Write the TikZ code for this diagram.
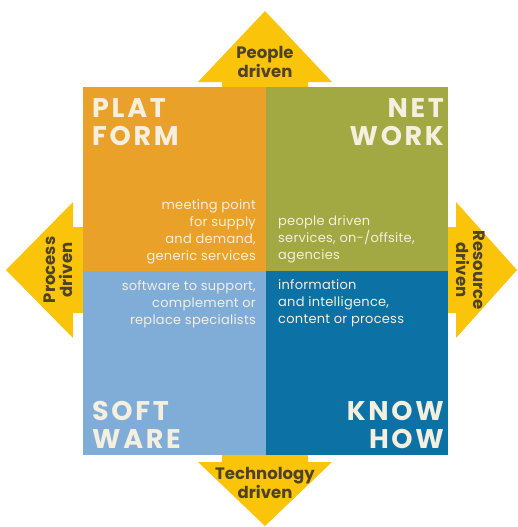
\documentclass[tikz,border=0pt]{standalone}
\usepackage{fontspec}
\setmainfont{Poppins}
\definecolor{orng}{RGB}{234,161,42}
\definecolor{olive}{RGB}{162,168,66}
\definecolor{lblue}{RGB}{128,173,216}
\definecolor{dblue}{RGB}{12,113,164}
\definecolor{ylw}{RGB}{250,196,10}
\definecolor{cream}{RGB}{244,239,222}
\definecolor{darktxt}{RGB}{78,66,40}
\tikzset{
  quad/.style={minimum width=182.5pt, minimum height=184pt, inner sep=0pt, outer sep=0pt, draw=none},
  title/.style={text=cream, font=\fontsize{27}{28}\selectfont\bfseries\addfontfeatures{LetterSpace=10}, inner sep=0pt},
  desc/.style={text=cream, font=\fontsize{13}{17}\selectfont\addfontfeatures{LetterSpace=2}, inner sep=0pt},
  arrtxt/.style={text=darktxt, font=\fontsize{16.5}{17}\selectfont\bfseries, align=center, inner sep=0pt},
  arrowshape/.style={fill=ylw, draw=none}
}
\begin{document}
\begin{tikzpicture}[x=1pt,y=-1pt]
\useasboundingbox (0,0) rectangle (518,527);
% yellow arrows
\fill[arrowshape] (222,95) -- (222,82) -- (198,82) -- (265,11) -- (332,82) -- (308,82) -- (308,95) -- cycle;
\fill[arrowshape] (222,448) -- (222,462) -- (198,462) -- (265,526) -- (332,462) -- (308,462) -- (308,448) -- cycle;
\fill[arrowshape] (90,227) -- (73,227) -- (73,202) -- (6,270) -- (73,338) -- (73,313) -- (90,313) -- cycle;
\fill[arrowshape] (440,227) -- (456,227) -- (456,202) -- (517,270) -- (456,338) -- (456,313) -- (440,313) -- cycle;
% quadrants
\node[quad, fill=orng, anchor=north west] (plat) at (83,87) {};
\node[quad, fill=olive, anchor=north east] (net) at (448,87) {};
\node[quad, fill=lblue, anchor=south west] (soft) at (83,455) {};
\node[quad, fill=dblue, anchor=south east] (know) at (448,455) {};
% titles
\node[title, anchor=north west, align=left] (platt) at (92,98) {PLAT\\FORM};
\node[title, anchor=north east, align=right] (nett) at (444,98) {NET\\WORK};
\node[title, anchor=south west, align=left] (softt) at (92,449) {SOFT\\WARE};
\node[title, anchor=south east, align=right] (knowt) at (444,449) {KNOW\\HOW};
% descriptions
\node[desc, anchor=north east, align=right] (platd) at (256,199) {meeting point\\for supply\\and demand,\\generic services};
\node[desc, anchor=north west, align=left] (netd) at (278,215) {people driven\\services, on-/offsite,\\agencies};
\node[desc, anchor=north east, align=right] (softd) at (256,280) {software to support,\\complement or\\replace specialists};
\node[desc, anchor=north west, align=left] (knowd) at (278,279) {information\\and intelligence,\\content or process};
% arrow labels
\node[arrtxt] (people) at (265,62) {People\\driven};
\node[arrtxt] (tech) at (265,483) {Technology\\driven};
\node[arrtxt, rotate=90] (proc) at (58,270) {Process\\driven};
\node[arrtxt, rotate=-90] (res) at (471,270) {Resource\\driven};
\end{tikzpicture}
\end{document}
